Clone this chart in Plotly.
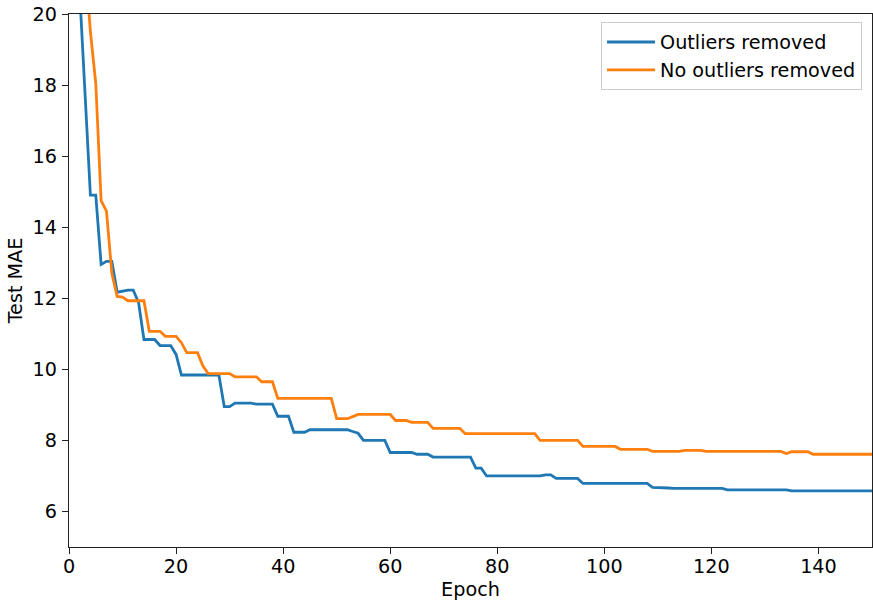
import plotly.graph_objects as go

epochs = list(range(151))

outliers_removed = [
    40.0, 28.0, 20.6, 17.6, 14.9, 14.9, 12.95, 13.04, 13.04, 12.17,
    12.2, 12.23, 12.23, 11.88, 10.84, 10.84, 10.84, 10.67, 10.67, 10.67,
    10.42, 9.84, 9.84, 9.84, 9.84, 9.84, 9.84, 9.84, 9.84, 8.95,
    8.95, 9.05, 9.05, 9.05, 9.05, 9.02, 9.02, 9.02, 9.02, 8.68,
    8.68, 8.68, 8.23, 8.23, 8.23, 8.3, 8.3, 8.3, 8.3, 8.3,
    8.3, 8.3, 8.3, 8.25, 8.2, 8.0, 8.0, 8.0, 8.0, 8.0,
    7.66, 7.66, 7.66, 7.66, 7.66, 7.61, 7.61, 7.61, 7.53, 7.53,
    7.53, 7.53, 7.53, 7.53, 7.53, 7.53, 7.22, 7.22, 7.0, 7.0,
    7.0, 7.0, 7.0, 7.0, 7.0, 7.0, 7.0, 7.0, 7.0, 7.03,
    7.03, 6.93, 6.93, 6.93, 6.93, 6.93, 6.79, 6.79, 6.79, 6.79,
    6.79, 6.79, 6.79, 6.79, 6.79, 6.79, 6.79, 6.79, 6.79, 6.68,
    6.68, 6.67, 6.66, 6.65, 6.65, 6.65, 6.65, 6.65, 6.65, 6.65,
    6.65, 6.65, 6.65, 6.61, 6.61, 6.61, 6.61, 6.61, 6.61, 6.61,
    6.61, 6.61, 6.61, 6.61, 6.61, 6.58, 6.58, 6.58, 6.58, 6.58,
    6.58, 6.58, 6.58, 6.58, 6.58, 6.58, 6.58, 6.58, 6.58, 6.58, 6.58,
]

no_outliers_removed = [
    50.0, 35.0, 25.0, 21.5, 19.5, 18.05, 14.75, 14.45, 12.7, 12.05,
    12.03, 11.93, 11.93, 11.93, 11.93, 11.07, 11.07, 11.07, 10.93, 10.93,
    10.93, 10.75, 10.47, 10.47, 10.47, 10.1, 9.88, 9.88, 9.88, 9.88,
    9.88, 9.79, 9.79, 9.79, 9.79, 9.79, 9.65, 9.65, 9.65, 9.18,
    9.18, 9.18, 9.18, 9.18, 9.18, 9.18, 9.18, 9.18, 9.18, 9.18,
    8.61, 8.61, 8.61, 8.67, 8.73, 8.73, 8.73, 8.73, 8.73, 8.73,
    8.73, 8.56, 8.56, 8.56, 8.51, 8.51, 8.51, 8.51, 8.34, 8.34,
    8.34, 8.34, 8.34, 8.34, 8.19, 8.19, 8.19, 8.19, 8.19, 8.19,
    8.19, 8.19, 8.19, 8.19, 8.19, 8.19, 8.19, 8.19, 8.0, 8.0,
    8.0, 8.0, 8.0, 8.0, 8.0, 8.0, 7.83, 7.83, 7.83, 7.83,
    7.83, 7.83, 7.83, 7.75, 7.75, 7.75, 7.75, 7.75, 7.75, 7.69,
    7.69, 7.69, 7.69, 7.69, 7.69, 7.72, 7.72, 7.72, 7.72, 7.69,
    7.69, 7.69, 7.69, 7.69, 7.69, 7.69, 7.69, 7.69, 7.69, 7.69,
    7.69, 7.69, 7.69, 7.69, 7.63, 7.68, 7.68, 7.68, 7.68, 7.61,
    7.61, 7.61, 7.61, 7.61, 7.61, 7.61, 7.61, 7.61, 7.61, 7.61, 7.61,
]

x_ticks = [0, 20, 40, 60, 80, 100, 120, 140]
y_ticks = [6, 8, 10, 12, 14, 16, 18, 20]

font_family = "DejaVu Sans"
font_size = 19.2
axis_color = "#222222"

fig = go.Figure()
fig.add_trace(go.Scatter(x=epochs, y=outliers_removed, mode="lines",
                         name="Outliers removed",
                         line=dict(color="#1f77b4", width=2.8)))
fig.add_trace(go.Scatter(x=epochs, y=no_outliers_removed, mode="lines",
                         name="No outliers removed",
                         line=dict(color="#ff7f0e", width=2.8)))

axis_common = dict(showgrid=False, zeroline=False, showline=True, mirror=True,
                   linecolor=axis_color, linewidth=1.3, ticks="outside",
                   ticklen=6, tickwidth=1.3, tickcolor=axis_color,
                   tickfont=dict(family=font_family, size=font_size, color="#000"))

fig.update_layout(
    width=873, height=601,
    margin=dict(l=69, r=1, t=14, b=54),
    paper_bgcolor="white", plot_bgcolor="white",
    font=dict(family=font_family, size=font_size, color="#000"),
    xaxis=dict(range=[0, 150], tickvals=x_ticks, ticklabelstandoff=-4,
               title=dict(text="Epoch", font=dict(family=font_family, size=font_size), standoff=6),
               **axis_common),
    yaxis=dict(range=[5, 20], tickvals=y_ticks, ticklabelstandoff=1,
               title=dict(text="Test MAE", font=dict(family=font_family, size=font_size), standoff=4),
               **axis_common),
    legend=dict(x=0.9876, y=0.985, xanchor="right", yanchor="top",
                bgcolor="rgba(255,255,255,0.8)", bordercolor="#cccccc",
                borderwidth=1, font=dict(family=font_family, size=font_size),
                itemwidth=48),
    showlegend=True,
)

fig.write_html("out.html")
